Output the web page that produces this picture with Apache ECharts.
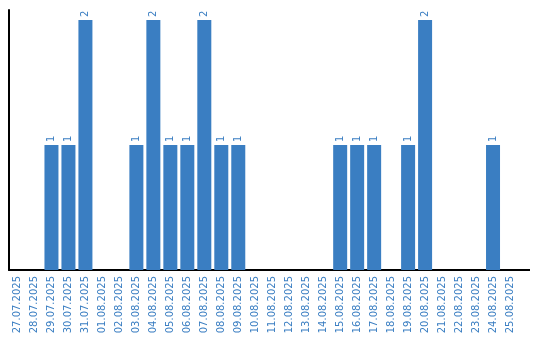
<!DOCTYPE html>
<html><head><meta charset="utf-8">
<script src="https://cdn.jsdelivr.net/npm/echarts@6/dist/echarts.min.js"></script>
<style>html,body{margin:0;padding:0;background:#fff}#c{width:540px;height:340px}</style>
</head><body><div id="c"></div>
<script>
const categories = ["27.07.2025","28.07.2025","29.07.2025","30.07.2025","31.07.2025","01.08.2025","02.08.2025","03.08.2025","04.08.2025","05.08.2025","06.08.2025","07.08.2025","08.08.2025","09.08.2025","10.08.2025","11.08.2025","12.08.2025","13.08.2025","14.08.2025","15.08.2025","16.08.2025","17.08.2025","18.08.2025","19.08.2025","20.08.2025","21.08.2025","22.08.2025","23.08.2025","24.08.2025","25.08.2025"];
const counts = [0,0,1,1,2,0,0,1,2,1,1,2,1,1,0,0,0,0,0,1,1,1,0,1,2,0,0,0,1,0];
const blue = '#3a7ec2';
const chart = echarts.init(document.getElementById('c'), null, {renderer:'canvas'});
chart.setOption({
  animation:false,
  grid:{left:9, right:21.5, top:10, bottom:70, containLabel:false},
  xAxis:{type:'category', data:categories,
    axisLine:{show:true, lineStyle:{color:'#000', width:2}},
    axisTick:{show:false},
    axisLabel:{rotate:90, interval:0, color:blue, fontFamily:'DejaVu Sans', fontSize:10, margin:6}},
  yAxis:{type:'value', min:0, max:2.08,
    axisLine:{show:true, lineStyle:{color:'#000', width:2}},
    axisTick:{show:false}, axisLabel:{show:false}, splitLine:{show:false}},
  graphic:[{type:'line', shape:{x1:518, y1:270, x2:530, y2:270}, style:{stroke:'#000', lineWidth:2}}],
  series:[{type:'bar', data:counts, barWidth:14, itemStyle:{color:blue},
    label:{show:true, position:'top', rotate:90, align:'left', verticalAlign:'middle', distance:3,
      color:blue, fontFamily:'DejaVu Sans', fontSize:10,
      formatter:p=>p.value?String(p.value):''}}]
});
</script></body></html>
